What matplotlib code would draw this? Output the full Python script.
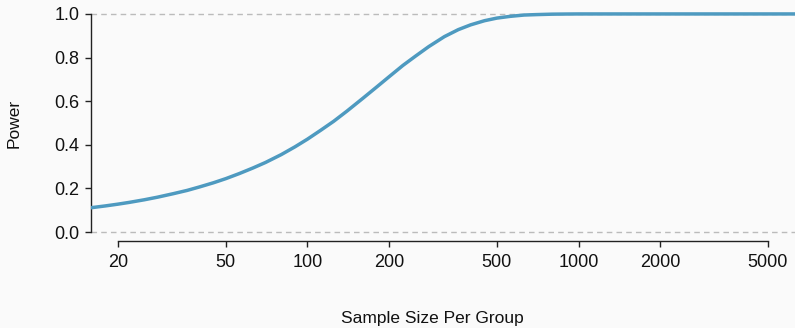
# Power curve vs sample size per group (log x axis, R-style axes)

import matplotlib
matplotlib.use("Agg")
import matplotlib.pyplot as plt
from matplotlib.ticker import FixedLocator, NullLocator

# --- Data ---
sample_size = [16, 18, 20, 22, 25, 28, 32, 36, 40, 45, 50, 56, 63, 70, 80,
               90, 100, 112, 125, 140, 160, 180, 200, 225, 250, 280, 320,
               360, 400, 450, 500, 560, 630, 700, 800, 900, 1000, 1250,
               1600, 2000, 3000, 5000, 6300]
power = [0.112, 0.120, 0.128, 0.136, 0.148, 0.160, 0.176, 0.191, 0.207,
         0.226, 0.245, 0.268, 0.294, 0.319, 0.355, 0.391, 0.426, 0.467,
         0.508, 0.555, 0.613, 0.665, 0.712, 0.764, 0.806, 0.850, 0.896,
         0.928, 0.950, 0.969, 0.981, 0.989, 0.995, 0.997, 0.999, 0.9996,
         1.0, 1.0, 1.0, 1.0, 1.0, 1.0, 1.0]
x_ticks = [20, 50, 100, 200, 500, 1000, 2000, 5000]
y_ticks = [0.0, 0.2, 0.4, 0.6, 0.8, 1.0]

bg = "#fafafa"
line_color = "#4e9ac0"

plt.rcParams["font.family"] = ["Liberation Sans", "DejaVu Sans"]

fig = plt.figure(figsize=(7.95, 3.28), dpi=100, facecolor=bg)
ax = fig.add_axes([91 / 795, 1 - 241 / 328, 1 - 91 / 795, 236 / 328])
ax.set_facecolor(bg)

# reference lines at 0 and 1
for yv in (0.0, 1.0):
    ax.axhline(yv, color="#bbbbbb", lw=1, ls=(0, (4, 3)), zorder=1)

ax.plot(sample_size, power, color=line_color, lw=2.5, zorder=3,
        solid_joinstyle="round")

ax.set_xscale("log")
ax.set_xlim(15.9, 6290)
ax.set_ylim(-0.041, 1.041)

ax.xaxis.set_major_locator(FixedLocator(x_ticks))
ax.xaxis.set_minor_locator(NullLocator())
ax.set_xticklabels([str(t) for t in x_ticks])
ax.set_yticks(y_ticks)
ax.set_yticklabels([f"{t:.1f}" for t in y_ticks])

for side in ("top", "right"):
    ax.spines[side].set_visible(False)
ax.spines["left"].set_bounds(0, 1)
ax.spines["bottom"].set_bounds(20, 5000)
for side in ("left", "bottom"):
    ax.spines[side].set_color("#222222")
    ax.spines[side].set_linewidth(1)

ax.tick_params(axis="both", length=4.5, width=1, color="#222222",
               labelsize=13, labelcolor="#111111")
ax.tick_params(axis="x", pad=5)
ax.tick_params(axis="y", pad=4)

fig.text(432 / 795, 1 - 318 / 328, "Sample Size Per Group", ha="center",
         va="center", fontsize=12.5, color="#111111")
fig.text(14 / 795, 1 - 123 / 328, "Power", ha="center", va="center",
         rotation=90, fontsize=12.5, color="#111111")

fig.savefig("out.png", dpi=100, facecolor=bg)
